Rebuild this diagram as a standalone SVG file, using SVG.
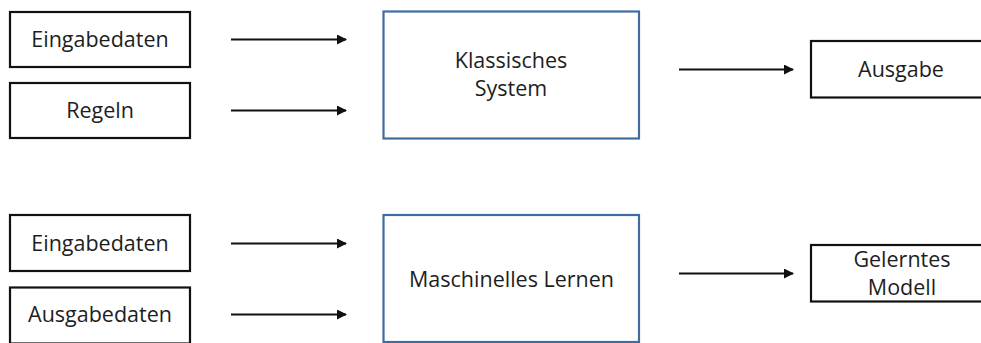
<svg xmlns="http://www.w3.org/2000/svg" width="981" height="343" viewBox="0 0 981 343">
  <style>
    .box { fill: #ffffff; stroke: #111111; stroke-width: 2.2; }
    .core { fill: #ffffff; stroke: #3e6d9e; stroke-width: 2.2; }
    .label { font-family: "Open Sans", "Liberation Sans", sans-serif; font-size: 21.5px; fill: #1e1e1e; text-anchor: middle; }
    .edge { stroke: #111111; stroke-width: 2; fill: none; marker-end: url(#arrow); }
  </style>
  <defs>
    <marker id="arrow" viewBox="0 0 10 10" refX="9" refY="5" markerWidth="5" markerHeight="5" orient="auto" markerUnits="strokeWidth">
      <path d="M0,0 L10,5 L0,10 z" fill="#111111"/>
    </marker>
  </defs>
  <rect width="981" height="343" fill="#ffffff"/>

  <!-- upper row: classic system -->
  <g id="input-data-1">
    <rect class="box" x="10" y="12" width="180" height="55"/>
    <text class="label" x="100" y="47">Eingabedaten</text>
  </g>
  <g id="rules">
    <rect class="box" x="10" y="83" width="180" height="55"/>
    <text class="label" x="100" y="118">Regeln</text>
  </g>
  <g id="classic-system">
    <rect class="core" x="383.5" y="11.5" width="255.5" height="127"/>
    <text class="label" x="511" y="67.5">Klassisches</text>
    <text class="label" x="511" y="96">System</text>
  </g>
  <g id="output">
    <rect class="box" x="811" y="41" width="180" height="56.5"/>
    <text class="label" x="901" y="77">Ausgabe</text>
  </g>

  <!-- lower row: machine learning -->
  <g id="input-data-2">
    <rect class="box" x="10" y="215" width="180" height="56"/>
    <text class="label" x="100" y="250.5">Eingabedaten</text>
  </g>
  <g id="output-data">
    <rect class="box" x="10" y="287.5" width="180" height="56"/>
    <text class="label" x="100" y="322">Ausgabedaten</text>
  </g>
  <g id="machine-learning">
    <rect class="core" x="383.5" y="215" width="255.5" height="127"/>
    <text class="label" x="511.5" y="287">Maschinelles Lernen</text>
  </g>
  <g id="learned-model">
    <rect class="box" x="811" y="245" width="180" height="56.5"/>
    <text class="label" x="902" y="267">Gelerntes</text>
    <text class="label" x="902" y="295">Modell</text>
  </g>

  <g id="connectors">
    <line class="edge" x1="231" y1="39.5" x2="346" y2="39.5"/>
    <line class="edge" x1="231" y1="110.5" x2="346" y2="110.5"/>
    <line class="edge" x1="679" y1="69.5" x2="793" y2="69.5"/>
    <line class="edge" x1="231" y1="243.5" x2="346" y2="243.5"/>
    <line class="edge" x1="231" y1="314.5" x2="346" y2="314.5"/>
    <line class="edge" x1="679" y1="273.5" x2="793" y2="273.5"/>
  </g>
</svg>
